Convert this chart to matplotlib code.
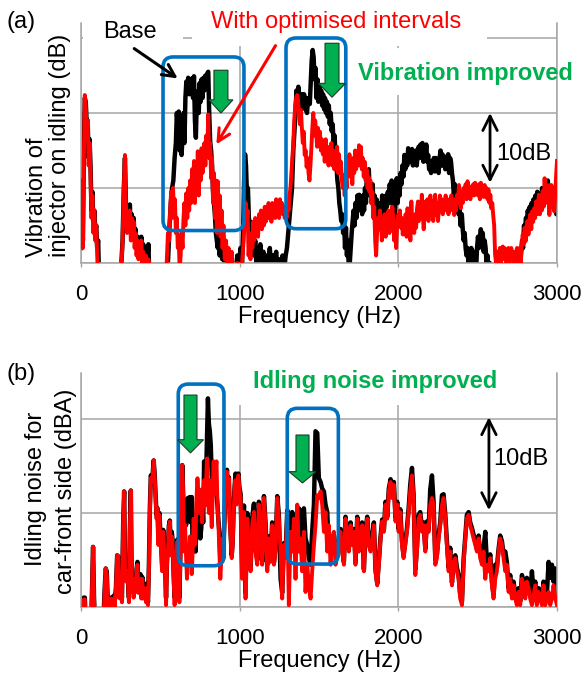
import matplotlib.pyplot as plt
import numpy as np
from matplotlib.patches import FancyBboxPatch, FancyArrow, Rectangle

plt.rcParams['font.family'] = ['Liberation Sans', 'DejaVu Sans']

GRID = '#a6a6a6'
BLUE = '#0070C0'
GREEN = '#00B050'
RED = '#ff0000'

freq_ticks = [0, 1000, 2000, 3000]

# (a) injector vibration on idling, (Hz, dB) -- base intervals
vib_base = [
    (0, 2), (6, 6), (12, 3), (18, 15), (24, 22), (30, 21.5), (36, 18.5), (42, 19), (48, 14), (54, 16.5),
    (60, 13), (66, 7), (72, 9.5), (78, 5), (84, 7), (90, 4), (96, 5), (102, 2), (108, 3), (115, -3),
    (245, -3), (252, -1), (262, 3), (270, 10), (277, 14), (283, 8), (290, 5), (296, 7.5), (302, 6), (308, 7.8),
    (314, 4), (320, 6.5), (326, 4.5), (332, 6), (338, 3), (344, 4.5), (350, 2), (356, 3.5), (362, 1), (368, 3),
    (374, 2), (380, 3.5), (386, 1), (392, 2.5), (400, 1), (408, 2), (416, 0), (425, 2.5), (432, -3), (540, -3),
    (550, 1), (558, 5), (566, 8), (574, 10), (582, 11), (590, 14), (598, 16), (604, 20), (610, 18), (616, 20.2),
    (622, 15), (628, 19), (634, 14.4), (640, 17), (646, 20), (652, 16), (658, 22), (664, 24.2), (670, 23), (676, 24.7),
    (682, 22.5), (688, 24.4), (694, 23), (700, 24.6), (706, 22), (712, 24.9), (718, 19), (724, 16.7), (730, 22), (736, 22.9),
    (742, 20), (748, 24), (754, 21.5), (760, 24.5), (766, 22), (772, 24.7), (778, 23), (784, 25), (790, 24), (796, 25.3),
    (802, 25.5), (808, 20), (814, 16.2), (820, 15), (826, 13), (832, 9.6), (838, 8), (844, 6.4), (850, 4), (856, 3),
    (862, 2), (868, 4), (874, 1), (882, 3), (890, 0.5), (898, 2), (906, 0), (914, 1.5), (922, -1), (930, 1),
    (940, -2), (950, 0), (960, -3), (970, -2), (985, 1), (995, -1), (1005, 2), (1015, 0), (1022, 4), (1028, 11),
    (1034, 14.5), (1040, 13), (1046, 9), (1052, 10), (1058, 6), (1064, 4), (1070, 5.5), (1076, 2), (1082, 4), (1090, 1),
    (1098, 3), (1106, 0), (1114, 2), (1122, 0.5), (1130, 2.5), (1140, 0), (1150, 1.5), (1160, -1), (1170, 1), (1180, 0),
    (1190, 2), (1200, -1), (1210, 1), (1220, 0), (1230, 1.5), (1240, -1), (1250, 0.5), (1260, -1), (1270, 1), (1280, -1),
    (1290, 1), (1298, 2), (1306, 4), (1314, 6), (1322, 8), (1330, 10), (1338, 15), (1346, 18), (1352, 20), (1358, 23),
    (1364, 22), (1370, 23.5), (1376, 21), (1382, 22.5), (1388, 20.5), (1394, 22.5), (1400, 21), (1406, 22.5), (1412, 20.5), (1418, 22),
    (1424, 20), (1430, 21.5), (1436, 22), (1442, 21.2), (1448, 24), (1454, 27), (1460, 28.4), (1466, 27.5), (1472, 24.5), (1478, 26),
    (1484, 22), (1490, 24.5), (1496, 21.5), (1502, 23.5), (1508, 22), (1514, 23), (1520, 21), (1526, 22.5), (1532, 20.5), (1538, 22),
    (1544, 20), (1550, 21.5), (1556, 19.5), (1562, 21), (1568, 18.5), (1574, 20), (1580, 17.6), (1586, 18.5), (1592, 16), (1598, 17),
    (1604, 14.4), (1610, 13), (1616, 11), (1622, 10), (1628, 8), (1634, 7), (1640, 5.6), (1646, 6.5), (1652, 4), (1658, 5.5),
    (1664, 2), (1670, 4.7), (1676, 1), (1682, 3), (1688, -1), (1694, 0), (1700, 2), (1706, 4), (1712, 5.6), (1718, 7),
    (1724, 5), (1730, 8), (1736, 6), (1742, 9), (1748, 7), (1754, 9.1), (1760, 7.5), (1766, 8.5), (1772, 6.5), (1778, 9),
    (1784, 7), (1790, 10), (1796, 8), (1802, 12.2), (1808, 10), (1814, 12.5), (1820, 9), (1826, 10), (1832, 8), (1838, 10.5),
    (1844, 7), (1850, 9), (1856, 6), (1862, 8.5), (1868, 5), (1874, 7), (1880, 4.5), (1886, 8), (1892, 6), (1898, 9),
    (1904, 7), (1910, 8.5), (1916, 6), (1922, 9), (1928, 7.5), (1934, 9.5), (1940, 8), (1946, 10.5), (1952, 8.5), (1958, 11),
    (1966, 7), (1972, 9), (1978, 6), (1984, 10), (1990, 11.3), (1996, 8), (2002, 11), (2008, 9), (2014, 12), (2020, 10.5),
    (2026, 13), (2032, 11.5), (2038, 14.4), (2044, 12.5), (2050, 14), (2056, 13), (2062, 15.3), (2068, 13.5), (2074, 14.8), (2080, 13.5),
    (2086, 15.2), (2092, 13), (2098, 14.5), (2104, 13.5), (2110, 15), (2116, 13), (2122, 14.5), (2128, 15.5), (2134, 14), (2140, 15.8),
    (2146, 14.5), (2152, 16), (2158, 13.5), (2164, 15.5), (2170, 14), (2176, 15.8), (2182, 13.5), (2188, 14.4), (2194, 12.5), (2200, 13.5),
    (2206, 12), (2212, 13.5), (2218, 12.5), (2224, 14), (2230, 12.2), (2236, 14), (2242, 12.5), (2248, 13), (2254, 12), (2260, 14),
    (2266, 15), (2272, 13), (2278, 14.5), (2284, 13), (2290, 14.2), (2296, 12.5), (2302, 14), (2308, 13), (2314, 14.5), (2320, 12),
    (2326, 14), (2332, 13.5), (2338, 12), (2344, 11), (2350, 9), (2356, 10.5), (2362, 8), (2368, 9.5), (2374, 8.5), (2380, 6.5),
    (2386, 7.5), (2392, 5), (2400, 6.5), (2406, 4.5), (2412, 3), (2418, 4), (2424, 2), (2430, 1), (2436, 2), (2442, 0),
    (2448, 1.5), (2454, 0.5), (2460, 2), (2466, 0), (2472, 1), (2478, 0), (2484, 1.5), (2490, -1), (2496, 2), (2502, 3.5),
    (2508, 2), (2514, 3.5), (2520, 4.5), (2526, 3.5), (2532, 4), (2538, 1.5), (2544, 3), (2550, 2), (2556, 0), (2562, 1),
    (2568, -1), (2576, 0), (2590, -2), (2760, -2), (2766, 0), (2772, 1), (2780, 3), (2786, 2), (2792, 5), (2798, 4),
    (2804, 6), (2810, 5.5), (2816, 7), (2822, 6), (2828, 7.5), (2834, 6.5), (2840, 8), (2846, 7), (2852, 8.5), (2858, 7.5),
    (2864, 9), (2870, 7), (2876, 9.5), (2882, 7), (2888, 8.5), (2894, 9), (2900, 7.5), (2906, 10), (2912, 8), (2918, 9.5),
    (2924, 8.5), (2930, 10.5), (2936, 9), (2942, 11), (2948, 8.5), (2954, 10), (2960, 8), (2966, 9.5), (2972, 8), (2978, 10),
    (2984, 7.5), (2990, 8.5), (2996, 6.5), (3000, 7),
]

# (a) injector vibration on idling, (Hz, dB) -- optimised intervals
vib_opt = [
    (0, 11), (6, 4), (12, 2), (18, 14), (24, 22.4), (30, 21), (36, 17), (42, 19), (48, 13), (54, 16),
    (60, 12), (66, 6), (72, 9), (78, 4), (84, 7), (90, 3), (96, 5), (102, 1), (110, -3), (250, -3),
    (262, 3), (270, 10), (277, 14.4), (283, 8), (290, 4), (296, 6.5), (302, 5), (308, 7), (314, 3), (320, 6),
    (326, 4), (332, 5.5), (338, 2), (344, 4), (350, 1), (356, 3), (362, 0.5), (368, 2.5), (374, 1), (380, 3),
    (386, 0), (392, 1.5), (400, -1), (408, 1), (416, -2), (425, 0.5), (435, -3), (530, -3), (540, 0), (548, 4),
    (556, 3), (562, 7), (568, 9.5), (574, 6), (580, 10), (586, 7), (592, 8.5), (598, 4), (604, 6), (610, 2),
    (616, 3), (622, -1), (628, 1), (634, 4), (640, 2), (646, 6), (652, 8), (658, 5), (664, 9.3), (670, 6),
    (676, 10), (682, 7), (688, 11), (694, 8), (700, 12.5), (706, 9), (712, 13.6), (718, 8), (724, 13), (730, 10),
    (736, 14.9), (742, 9), (748, 14), (754, 11), (760, 15.3), (766, 12), (772, 14.5), (778, 16), (784, 13), (790, 17),
    (796, 15), (802, 19.8), (808, 14), (814, 16), (820, 11.3), (826, 14), (832, 8), (838, 12), (844, 6), (850, 11),
    (856, 4), (862, 10.9), (868, 6), (874, 9), (880, 3.5), (886, 7), (892, 2), (898, 5), (906, 0.5), (914, 3),
    (922, 0), (930, 2), (940, -1), (950, 1.5), (960, -3), (970, -2), (985, 0), (1000, -2), (1015, 0), (1025, 3),
    (1032, 6), (1038, 8), (1044, 5), (1050, 7), (1056, 1), (1062, 3), (1068, 0.5), (1074, 4), (1080, 2), (1086, 5.5),
    (1092, 3), (1098, 6), (1104, 4), (1110, 5.5), (1116, 3.5), (1122, 6.5), (1128, 5), (1134, 7), (1140, 4.5), (1146, 6.5),
    (1152, 5), (1158, 7.5), (1164, 5.5), (1170, 7), (1176, 6), (1182, 8), (1188, 6), (1194, 7.5), (1200, 5.5), (1206, 8),
    (1212, 6.5), (1218, 7.5), (1224, 6), (1230, 8.5), (1236, 7), (1242, 7.5), (1248, 6), (1254, 8.5), (1260, 7), (1266, 8),
    (1272, 6.5), (1278, 7.5), (1284, 6), (1290, 7), (1296, 6), (1302, 8), (1308, 7), (1314, 9), (1320, 10), (1326, 12),
    (1332, 14), (1338, 16), (1344, 19), (1350, 21), (1356, 22), (1362, 22.4), (1368, 21.7), (1374, 20), (1380, 18.5), (1386, 20.4),
    (1392, 18), (1398, 16), (1404, 17.5), (1410, 14.4), (1416, 15), (1422, 12.8), (1428, 14), (1434, 12), (1440, 11), (1446, 13),
    (1452, 15.3), (1458, 18), (1464, 20), (1470, 17), (1476, 19), (1482, 17.5), (1488, 15.5), (1494, 18), (1500, 16), (1506, 17.5),
    (1512, 15), (1518, 16.5), (1524, 14.5), (1530, 16), (1536, 13.5), (1542, 16.5), (1548, 14), (1554, 15.5), (1560, 13), (1566, 15),
    (1572, 14), (1578, 16), (1584, 13), (1590, 15), (1596, 12.5), (1602, 14.5), (1608, 13), (1614, 15.5), (1620, 12), (1626, 14.5),
    (1632, 12), (1638, 13.5), (1644, 11), (1650, 10), (1656, 11.5), (1662, 9), (1668, 12), (1674, 10), (1680, 14), (1686, 12),
    (1692, 14.5), (1698, 11.5), (1704, 13), (1710, 10.5), (1716, 14), (1722, 12), (1728, 15), (1734, 12.5), (1740, 14.5), (1746, 13),
    (1752, 15.7), (1758, 13), (1764, 15.5), (1770, 12.5), (1776, 14), (1782, 11.5), (1788, 13.5), (1794, 11), (1800, 12.5), (1806, 10),
    (1812, 11.5), (1818, 9.5), (1824, 11), (1830, 8), (1836, 9.5), (1842, 6), (1848, 7.5), (1854, 3), (1860, 1), (1866, 4),
    (1872, 6), (1878, 4.5), (1884, 7), (1890, 5.5), (1896, 3), (1902, 6), (1908, 4.5), (1914, 6.5), (1920, 3.5), (1926, 6),
    (1932, 5), (1938, 7), (1944, 4), (1950, 6.5), (1956, 5), (1962, 7.5), (1968, 6), (1974, 3), (1980, 5.5), (1986, 2),
    (1992, 4.7), (1998, 6.4), (2004, 5.5), (2010, 7), (2016, 4.7), (2022, 6), (2028, 3.8), (2034, 5.5), (2040, 4), (2046, 6.5),
    (2052, 3.5), (2058, 7.3), (2064, 5), (2070, 6), (2076, 3), (2082, 8.2), (2088, 5), (2094, 6.4), (2100, 4), (2106, 6.5),
    (2112, 4.7), (2118, 7.3), (2124, 8.2), (2130, 5.6), (2136, 8), (2142, 6), (2148, 9.1), (2154, 6.4), (2160, 4.5), (2166, 7.5),
    (2172, 8.2), (2178, 6), (2184, 8.5), (2190, 5.6), (2196, 7.5), (2202, 9), (2208, 6.5), (2214, 8.2), (2220, 5.6), (2226, 7.5),
    (2232, 9.1), (2238, 6.4), (2244, 8), (2250, 5.6), (2256, 7.3), (2262, 9), (2268, 7), (2274, 8.5), (2280, 6.5), (2286, 8.2),
    (2292, 7), (2298, 9), (2304, 7.5), (2310, 8), (2316, 6.5), (2322, 8.5), (2328, 7), (2334, 9), (2340, 7.5), (2346, 8.2),
    (2352, 6.4), (2358, 8.5), (2364, 7), (2370, 9.1), (2376, 8), (2382, 10.4), (2388, 9), (2394, 7.3), (2400, 9.5), (2406, 8),
    (2412, 10), (2418, 9), (2424, 10.5), (2430, 8.5), (2436, 10.9), (2442, 9.5), (2448, 10), (2454, 8.5), (2460, 10.2), (2466, 9.1),
    (2472, 10.5), (2478, 9), (2484, 10.7), (2490, 9.6), (2496, 10.2), (2502, 9), (2508, 10.5), (2514, 8.5), (2520, 10.7), (2526, 9.5),
    (2532, 10), (2538, 8.8), (2544, 10.4), (2550, 9), (2556, 10), (2562, 8.5), (2568, 9.8), (2574, 8), (2580, 9.1), (2586, 7.3),
    (2592, 8), (2598, 6.4), (2604, 5), (2610, 1.1), (2616, 0), (2622, 1.5), (2628, -0.5), (2634, 1.1), (2640, 2), (2646, 0),
    (2652, 1.6), (2658, 2.2), (2664, 0.5), (2670, 2), (2676, 1), (2682, -0.5), (2688, 1.5), (2694, 2), (2700, 0), (2706, 1.1),
    (2712, 2), (2718, 0.5), (2724, 1.5), (2730, -0.5), (2736, 0.2), (2742, 1.5), (2748, 2), (2754, 0), (2760, 1), (2766, 2),
    (2772, 0), (2778, 2.5), (2784, 3.8), (2790, 2.5), (2796, 4.7), (2802, 2.9), (2808, 4.5), (2814, 5.6), (2820, 3.8), (2826, 5),
    (2832, 6.5), (2838, 4.5), (2844, 6.9), (2850, 5.5), (2856, 7.3), (2862, 6), (2868, 8.2), (2874, 6.5), (2880, 7.5), (2886, 9.1),
    (2892, 6.5), (2898, 8.5), (2904, 7), (2910, 9.6), (2916, 7.5), (2922, 11.3), (2928, 8), (2934, 9.6), (2940, 8.2), (2946, 10.4),
    (2952, 6.4), (2958, 9), (2964, 10.4), (2970, 7.5), (2976, 9.6), (2982, 6.9), (2988, 9), (2994, 11.5), (3000, 13.6),
]

# (b) idling noise at the car front: (Hz, base dBA, optimised dBA)
noise_rows = [
    (0, -2, -2), (12, -2, -2), (18, 1, 0.8), (24, 1, 0.8), (30, -2, -2), (64, -2, -2), (70, 2, 2), (76, 6.4, 6.4), (82, 1, 1), (88, -2, -2),
    (140, -2, -2), (148, 1.5, 1), (156, 4.1, 4.1), (162, 3.8, 3.5), (168, 1, 0.5), (176, -1, -1), (190, 1, 0.9), (198, -1, -1), (206, 1.2, 0.9), (212, 0.5, 0),
    (220, 2, 2), (228, 5.5, 5.5), (234, 5.4, 5.4), (240, 1.5, 1), (246, 1, 0.9), (252, 2.7, 2.7), (258, 1, 0.5), (266, 9, 9), (272, 12.3, 12.3), (278, 3, 3),
    (284, 3, 2.7), (290, 4, 3.8), (296, 3, 2.7), (302, 1, 0.5), (308, 8, 8), (314, 12.4, 12.4), (320, 2, 1.6), (326, 2.8, 2.5), (332, 1.5, 1), (338, 3, 3),
    (344, 2, 1.6), (350, 4, 3.8), (356, 4.8, 4.5), (362, 2, 1.5), (368, 2.5, 2.3), (374, 3.5, 3), (380, 1.5, 0.9), (386, 3.2, 3), (392, 1, 0.9), (398, 2.5, 2),
    (404, 2, 1.6), (410, 1, 0.5), (416, 2.5, 2), (422, 0.5, 0.2), (428, 4.5, 4), (434, 10.5, 10), (440, 14, 13.7), (446, 13.7, 13.3), (452, 14.2, 14), (458, 15.6, 15.6),
    (464, 14.2, 14), (470, 12, 11.6), (476, 9.8, 9.4), (482, 10.5, 10.5), (488, 7, 6.6), (494, 10, 9.8), (500, 8, 7), (506, 6.5, 5.9), (512, 4, 3.8), (518, 8.2, 8),
    (524, 6.5, 6), (530, 4.5, 4.1), (536, 1, 0.2), (542, 5, 4.5), (548, 6.5, 6), (554, 8.7, 8.5), (560, 9.2, 9.1), (566, 6, 5.5), (572, 8, 7.5), (578, 7, 6.6),
    (584, 3.5, 3), (590, 1, 0.2), (596, 4, 3.8), (602, 6, 5.5), (608, 7.2, 7), (614, 5, 4.5), (620, 1, 0.5), (626, 5.5, 5), (632, 10.2, 10), (638, 15.1, 15.1),
    (644, 12, 12), (650, 8.7, 5.9), (656, 10, 8.7), (662, 8.7, 5.5), (668, 9.5, 3), (674, 11.6, 6), (680, 10.5, 4.5), (686, 11.7, 7.5), (692, 9, 6.6), (698, 11.7, 3.5),
    (704, 5.9, 6), (710, 8, 9.4), (716, 7, 6.6), (722, 5.9, 7.5), (728, 9, 11.6), (734, 12.6, 13.7), (740, 12.3, 12), (746, 10, 10), (752, 7.3, 10.1), (758, 8.4, 12.5),
    (764, 11, 9), (770, 9, 11.6), (776, 15.5, 13.5), (782, 12, 10.8), (788, 13.7, 13), (794, 18, 15.8), (800, 22.2, 12), (806, 19.5, 10), (812, 18.7, 13.5), (818, 17.2, 11),
    (824, 14, 8.5), (830, 13.3, 12), (836, 14.4, 15.5), (842, 12.3, 12), (848, 13, 14.5), (854, 12, 15.5), (860, 10.9, 11), (866, 9.2, 9), (872, 8, 6), (878, 5.2, 3),
    (884, 5.5, 5), (890, 7.5, 7.3), (896, 5.2, 5), (902, 8.2, 8), (908, 11.2, 11), (914, 13.2, 13), (920, 14.6, 14.4), (926, 12.2, 12), (932, 13.8, 13.7), (938, 9.5, 9),
    (944, 7.5, 7.3), (950, 5.5, 5.2), (956, 7, 6.6), (962, 10.5, 10), (968, 12.8, 12.5), (974, 14.2, 13.5), (980, 11.3, 10.9), (986, 13.6, 13.3), (992, 14.2, 14), (998, 12.8, 12.5),
    (1006, 12, 11.6), (1016, 3.5, 3), (1027, 10.8, 10.1), (1037, 1.5, 0.9), (1048, 10, 9.4), (1058, 6.5, 5.9), (1069, 4, 3.8), (1079, 9.5, 8.7), (1090, 11, 10.1), (1100, 6.2, 5.9),
    (1111, 5, 4.5), (1121, 11.2, 10.9), (1132, 9, 8.7), (1142, 4.8, 4.5), (1153, 11.8, 11.6), (1163, 9, 8.7), (1174, 4.5, 3.8), (1184, 7.5, 7.3), (1195, 5.5, 4.8), (1205, 9, 8.7),
    (1216, 4.8, 4.5), (1226, 6.5, 5.9), (1237, 11.8, 11.6), (1247, 9.8, 9.4), (1258, 3, 5.9), (1268, 1.5, 0.9), (1279, 6.8, 6.6), (1289, 5.5, 5.2), (1300, 10.3, 10.1), (1310, 5.9, 0.2),
    (1321, 8.7, 8), (1331, 10.1, 5.9), (1342, 9.5, 9.4), (1352, 7.3, 3), (1363, 8, 10.9), (1373, 10.5, 5.9), (1384, 5.9, 7.3), (1394, 10.1, 3.8), (1405, 10.5, 8), (1415, 7.3, 1.6),
    (1426, 6.6, 4.5), (1436, 5.2, 2.3), (1447, 4.5, 0.9), (1457, 8, 3.8), (1468, 10.9, 6.6), (1478, 18.7, 8.7), (1489, 18.5, 11.9), (1499, 13.7, 11.6), (1510, 13.3, 12.3), (1520, 12.6, 10.9),
    (1531, 12.3, 8), (1541, 10.9, 10.1), (1552, 10.1, 5.9), (1562, 6, 8.7), (1573, 7.3, 4.5), (1583, 7, 7.3), (1594, 6, 8), (1604, 6.4, 4.5), (1615, 6, 5.9), (1625, 7.5, 7.3),
    (1636, 8.3, 8), (1646, 6.2, 5.9), (1657, 4.8, 4.5), (1667, 9.6, 9.4), (1678, 7.5, 7.3), (1688, 6.2, 5.9), (1699, 9, 8.7), (1709, 6.8, 6.6), (1720, 8.3, 8), (1730, 4.8, 4.5),
    (1741, 9.6, 9.4), (1751, 6.2, 5.9), (1762, 7.5, 7.3), (1772, 9, 8.7), (1783, 4, 3.8), (1793, 8.2, 8), (1804, 9.6, 9.4), (1814, 7, 6.5), (1825, 6.2, 5.9), (1835, 7.5, 7),
    (1846, 9, 8.7), (1856, 4, 3.8), (1867, 2.5, 2.3), (1877, 4.8, 4.5), (1888, 7.5, 7.3), (1898, 9.3, 9.1), (1909, 8.2, 8), (1919, 11.2, 10.9), (1930, 9.6, 9.4), (1940, 12.6, 12.3),
    (1951, 13.6, 13.3), (1961, 11.8, 11.6), (1972, 13.3, 13), (1982, 9.5, 9.1), (1993, 11.2, 10.9), (2002, 8.3, 8), (2012, 10.4, 10.1), (2023, 7, 6.6), (2033, 5.5, 5.2), (2044, 7, 6.6),
    (2054, 8.3, 8), (2065, 10.5, 10.1), (2075, 13, 12.3), (2086, 14.8, 14), (2096, 12, 11.6), (2107, 4, 3.4), (2117, 6.2, 5.9), (2128, 9.8, 9.4), (2138, 10.1, 9.8), (2149, 8.4, 8),
    (2159, 9, 8.7), (2170, 6.2, 5.9), (2180, 9.1, 8.7), (2191, 8.3, 8), (2201, 12.5, 10.8), (2212, 14, 11.6), (2222, 11.2, 10.8), (2233, 5, 4.5), (2243, 5.6, 5.2), (2254, 7.7, 7.3),
    (2264, 9, 8.7), (2275, 11.9, 10.8), (2285, 12, 11.6), (2296, 9.8, 9.4), (2306, 7, 6.6), (2317, 4.2, 3.8), (2327, 6.3, 5.9), (2338, 2.6, 2.3), (2348, 4.8, 4.5), (2359, 5.5, 5.2),
    (2369, 4.2, 3.8), (2380, 3.4, 3), (2390, 1.3, 0.9), (2401, 0.6, 0.2), (2411, 5, 4.5), (2422, 7.6, 7.3), (2432, 9.8, 9.4), (2443, 10.1, 9.8), (2453, 9, 8.7), (2464, 8.4, 8),
    (2474, 7.7, 7.3), (2485, 7, 6.6), (2495, 6.2, 5.9), (2506, 7.6, 7.3), (2516, 5.6, 5.2), (2527, 5, 4.5), (2537, 6.2, 5.9), (2548, 8, 3), (2558, 4.8, 4.5), (2569, 4.2, 3.8),
    (2579, 5.6, 5.2), (2590, 2.7, 2.3), (2600, 1.3, 0.9), (2611, 4.5, 3), (2621, 4.2, 3.8), (2632, 6.2, 5.9), (2642, 7.6, 7.3), (2653, 7, 6.6), (2663, 5.6, 5.2), (2674, 5.9, 3.8),
    (2684, 4.8, 4.5), (2695, 2, 1.6), (2705, 3.4, 3), (2716, 1.3, 0.9), (2726, 2.7, 2.3), (2737, 1.3, 0.9), (2747, 0.6, 0.2), (2758, 2, 1.6), (2768, 0.6, 0.2), (2779, 3.4, 3),
    (2789, 2.7, 2.3), (2800, 1.3, 0.9), (2810, 3.1, 2.7), (2821, 2.4, 2), (2831, 1.3, 0.9), (2842, 3.8, 0.2), (2852, 1.6, 1.2), (2863, 2.7, 2.3), (2873, 0.6, 0.2), (2884, 2, 1.6),
    (2894, 1.3, 0.9), (2905, 0.6, 0.2), (2915, 2.7, 2.3), (2926, 0.6, 0.2), (2936, 1.3, 0.9), (2947, 4.8, 1.6), (2957, 3.1, 0.2), (2968, 4.5, 0.9), (2978, 2.7, 2.3), (2989, 4.1, 0.9),
    (3000, 1, 0.2),
]

W, H = 584, 673


def fx(px):
    return px / W


def fy(py):
    return 1 - py / H


def setup_axes(ax, ymax, grid_y):
    ax.set_xlim(0, 3000)
    ax.set_ylim(0, ymax)
    ax.set_xticks(freq_ticks)
    ax.set_xticklabels([str(t) for t in freq_ticks], fontsize=16)
    ax.set_yticks(grid_y)
    ax.tick_params(axis='x', length=3, width=1, color=GRID, pad=12)
    ax.tick_params(axis='y', length=0, labelleft=False)
    ax.grid(True, color=GRID, lw=1.1)
    ax.set_axisbelow(True)
    ax.spines['top'].set_visible(False)
    for side in ('left', 'bottom', 'right'):
        ax.spines[side].set_color(GRID)
        ax.spines[side].set_linewidth(1.1)
    ax.set_xlabel('Frequency (Hz)', fontsize=17, labelpad=1)


def round_box(ax, x0, x1, y0, y1, r=63):
    # keep the corner radius round on screen despite Hz vs dB units
    bb = ax.get_position()
    sx = bb.width * W / np.ptp(ax.get_xlim())
    sy = bb.height * H / np.ptp(ax.get_ylim())
    ax.add_patch(FancyBboxPatch((x0, y0), x1 - x0, y1 - y0,
                                boxstyle=f"round,pad=0,rounding_size={r}",
                                mutation_aspect=sx / sy, fc='none', ec=BLUE,
                                lw=2.6, zorder=5, clip_on=False))


def down_arrow(ax, x, y_top, y_tip, width, head_width, head_length):
    ax.add_patch(FancyArrow(x, y_top, 0, y_tip - y_top, width=width,
                            head_width=head_width, head_length=head_length,
                            length_includes_head=True, fc=GREEN,
                            ec='#1d3b22', lw=0.8, zorder=6))


def cover(ax, x0, x1, y0, y1):
    # white text-box backgrounds hiding the grid behind the labels
    ax.add_patch(Rectangle((x0, y0), x1 - x0, y1 - y0, fc='white',
                           ec='none', zorder=1.5))


fig = plt.figure(figsize=(W / 100, H / 100), dpi=100)
ax_a = fig.add_axes([fx(81), fy(263), fx(557) - fx(81), fy(23) - fy(263)])
ax_b = fig.add_axes([fx(81), fy(607), fx(557) - fx(81), fy(373) - fy(607)])

# ---- (a) vibration
setup_axes(ax_a, 32, [0, 10, 20, 30])
fa, da = np.array(vib_base).T
ax_a.plot(fa, da, color='k', lw=3.2, zorder=2)
fo, do = np.array(vib_opt).T
ax_a.plot(fo, do, color=RED, lw=2.8, zorder=3)

cover(ax_a, 10, 643, 29.5, 33)
cover(ax_a, 700, 2558, 29.0, 33)
cover(ax_a, 1690, 2990, 22.4, 28.7)

round_box(ax_a, 517, 1027, 4.33, 27.47)
round_box(ax_a, 1292, 1669, 4.57, 30.0)
down_arrow(ax_a, 882, 25.7, 20.0, 88, 151, 1.75)
down_arrow(ax_a, 1582, 29.3, 22.1, 88, 170, 1.85)

ax_a.annotate('', xy=(624, 24.4), xytext=(321, 28.8),
              arrowprops=dict(arrowstyle='->', color='k', lw=2.2,
                              mutation_scale=22), zorder=7)
ax_a.annotate('', xy=(844, 15.5), xytext=(1235, 29.3),
              arrowprops=dict(arrowstyle='->', color=RED, lw=2.2,
                              mutation_scale=22), zorder=7)
ax_a.annotate('', xy=(2578, 10.7), xytext=(2578, 20.0),
              arrowprops=dict(arrowstyle='<->', color='k', lw=2.0,
                              mutation_scale=26, shrinkA=0, shrinkB=0), zorder=7)

fig.text(fx(7), fy(28), '(a)', fontsize=17, va='baseline')
fig.text(fx(103), fy(38), 'Base', fontsize=17, va='baseline')
fig.text(fx(211), fy(28), 'With optimised intervals', fontsize=17,
         color=RED, va='baseline')
fig.text(fx(358), fy(80), 'Vibration improved', fontsize=17,
         color=GREEN, fontweight='bold', va='baseline')
fig.text(fx(496), fy(160), '10dB', fontsize=17, va='baseline')
fig.text(fx(37), fy(257), 'Vibration of', fontsize=17, rotation=90,
         ha='center', va='bottom')
fig.text(fx(60), fy(257), 'injector on idling (dB)', fontsize=17,
         rotation=90, ha='center', va='bottom')

# ---- (b) idling noise
setup_axes(ax_b, 24.9, [0, 10, 20])
fb, nb, no = np.array(noise_rows).T
ax_b.plot(fb, nb, color='k', lw=3.2, zorder=2)
ax_b.plot(fb, no, color=RED, lw=2.8, zorder=3)

cover(ax_b, 700, 2700, 21.5, 26)

round_box(ax_b, 613, 901, 4.39, 23.72)
round_box(ax_b, 1300, 1622, 4.57, 21.14)
down_arrow(ax_b, 690, 22.55, 16.4, 82, 164, 1.4)
down_arrow(ax_b, 1396, 18.3, 13.2, 82, 170, 1.2)

ax_b.annotate('', xy=(2571, 10.3), xytext=(2571, 20.2),
              arrowprops=dict(arrowstyle='<->', color='k', lw=2.0,
                              mutation_scale=26, shrinkA=0, shrinkB=0), zorder=7)

fig.text(fx(7), fy(380), '(b)', fontsize=17, va='baseline')
fig.text(fx(253), fy(388), 'Idling noise improved', fontsize=17,
         color=GREEN, fontweight='bold', va='baseline')
fig.text(fx(493), fy(465), '10dB', fontsize=17, va='baseline')
fig.text(fx(36), fy(489), 'Idling noise for', fontsize=17, rotation=90,
         ha='center', va='center')
fig.text(fx(66), fy(491), 'car-front side (dBA)', fontsize=17,
         rotation=90, ha='center', va='center')

fig.savefig('out.png', dpi=100)
